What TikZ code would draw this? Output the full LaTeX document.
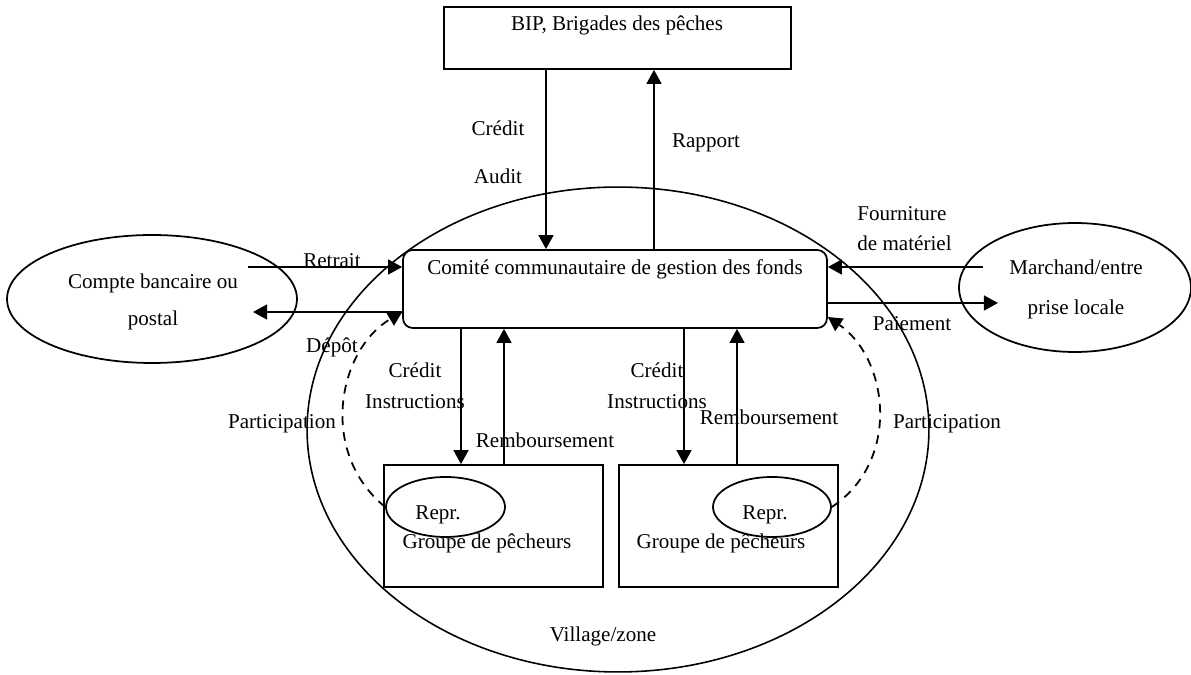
\documentclass[tikz,border=0pt]{standalone}
\usepackage{fontspec}
\setmainfont{Liberation Serif}
\usetikzlibrary{shapes.geometric,arrows.meta}
\begin{document}
\begin{tikzpicture}[x=0.02cm,y=-0.02cm,
  every node/.style={font=\fontsize{12}{14}\selectfont},
  txt/.style={inner sep=0pt, text height=8pt, text depth=2pt},
  twoline/.style={inner sep=0pt, align=center},
  box/.style={draw, line width=1pt, inner sep=0pt},
  oval/.style={draw, ellipse, line width=1pt, inner sep=0pt},
  arr/.style={line width=1pt, -{Triangle[length=8pt,width=8.5pt]}},
  dasharr/.style={arr, dash pattern=on 5pt off 4pt},
]
\useasboundingbox (0,0) rectangle (1191,675);

% village / zone boundary
\node[oval, line width=0.9pt, minimum width=12.44cm, minimum height=9.7cm] (village) at (618,429.5) {};
\node[txt] (villageText) at (603,636) {Village/zone};

% main boxes
\node[box, minimum width=6.94cm, minimum height=1.24cm] (bip) at (617.5,38) {};
\node[txt] (bipText) at (617,25) {BIP, Brigades des pêches};

\node[box, rounded corners=5.5pt, minimum width=8.48cm, minimum height=1.56cm] (comite) at (615,289) {};
\node[txt] (comiteText) at (615,269) {Comité communautaire de gestion des fonds};

% outside partners
\node[oval, minimum width=5.8cm, minimum height=2.56cm] (compte) at (152,299) {};
\node[twoline, font=\fontsize{12}{21}\selectfont] (compteText) at (153,302) {Compte bancaire ou\\postal};

\node[oval, minimum width=4.64cm, minimum height=2.58cm] (marchand) at (1075,287.5) {};
\node[twoline, font=\fontsize{12}{22.7}\selectfont] (marchandText) at (1076,289) {Marchand/entre\\prise locale};

% fishermen groups
\node[box, minimum width=4.38cm, minimum height=2.44cm] (grpL) at (493.5,526) {};
\node[box, minimum width=4.38cm, minimum height=2.44cm] (grpR) at (728.5,526) {};
\node[oval, minimum width=2.38cm, minimum height=1.2cm] (reprL) at (445.5,507) {};
\node[oval, minimum width=2.36cm, minimum height=1.2cm] (reprR) at (772,507) {};
\node[txt] (reprLText) at (438,514) {Repr.};
\node[txt] (reprRText) at (765,514) {Repr.};
\node[txt] (grpLText) at (487,543) {Groupe de pêcheurs};
\node[txt] (grpRText) at (721,543) {Groupe de pêcheurs};

% flow columns
\coordinate (xCredit) at (546,0);
\coordinate (xRapport) at (654,0);
\coordinate (xCredL) at (461,0);
\coordinate (xRembL) at (504,0);
\coordinate (xCredR) at (684,0);
\coordinate (xRembR) at (737,0);

\draw[arr] (bip.south -| xCredit) -- (comite.north -| xCredit);
\draw[arr] (comite.north -| xRapport) -- (bip.south -| xRapport);
\draw[arr] (comite.south -| xCredL) -- (grpL.north -| xCredL);
\draw[arr] (grpL.north -| xRembL) -- (comite.south -| xRembL);
\draw[arr] (comite.south -| xCredR) -- (grpR.north -| xCredR);
\draw[arr] (grpR.north -| xRembR) -- (comite.south -| xRembR);

% bank and merchant flows
\coordinate (retraitFrom) at (248,267);
\coordinate (depotTo) at (253,312);
\coordinate (fournFrom) at (983,267);
\coordinate (paieTo) at (998,303);
\draw[arr] (retraitFrom) -- (retraitFrom -| comite.west);
\draw[arr] (depotTo -| comite.west) -- (depotTo);
\draw[arr] (fournFrom) -- (fournFrom -| comite.east);
\draw[arr] (paieTo -| comite.east) -- (paieTo);

% participation of the representatives
\coordinate (partTipL) at (0,312);
\coordinate (partTipR) at (0,317);
\draw[dasharr] (reprL.west) .. controls (318,452) and (338,350) .. (comite.west |- partTipL);
\draw[dasharr] (reprR.east) .. controls (902,460) and (888,358) .. (comite.east |- partTipR);

% labels
\node[txt] (lCredit) at (498,130) {Crédit};
\node[txt] (lAudit) at (498,178) {Audit};
\node[txt] (lRapport) at (706,142) {Rapport};
\node[txt] (lRetrait) at (332,262) {Retrait};
\node[txt] (lDepot) at (332,347) {Dépôt};
\node[txt, anchor=west] (lFourn) at (857,215) {Fourniture};
\node[txt, anchor=west] (lMat) at (857,245) {de matériel};
\node[txt] (lPaie) at (912,325) {Paiement};
\node[txt] (lPartL) at (282,423) {Participation};
\node[txt] (lPartR) at (947,423) {Participation};
\node[txt] (lCredL) at (415,372) {Crédit};
\node[txt] (lInstrL) at (415,403) {Instructions};
\node[txt] (lRembL) at (545,442) {Remboursement};
\node[txt] (lCredR) at (657,372) {Crédit};
\node[txt] (lInstrR) at (657,403) {Instructions};
\node[txt] (lRembR) at (769,419) {Remboursement};
\end{tikzpicture}
\end{document}
